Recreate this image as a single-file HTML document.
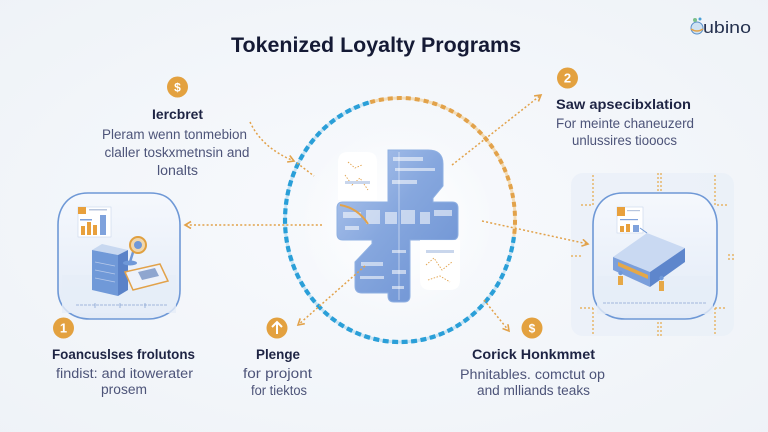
<!DOCTYPE html>
<html><head><meta charset="utf-8">
<style>
html,body{margin:0;padding:0;}
body{width:768px;height:432px;overflow:hidden;background:#f3f6fa;}
svg{display:block;}
text{font-family:"Liberation Sans",sans-serif;}
.h{font-weight:bold;fill:#1e2444;font-size:13.5px;}
.b{fill:#4d5479;font-size:13.5px;}
</style></head><body>
<svg width="768" height="432" viewBox="0 0 768 432" xmlns="http://www.w3.org/2000/svg">
<defs>
 <radialGradient id="bg" cx="50%" cy="50%" r="75%">
   <stop offset="0" stop-color="#f8fafd"/><stop offset="1" stop-color="#eef2f7"/>
 </radialGradient>
 <radialGradient id="glow" cx="50%" cy="50%" r="50%">
   <stop offset="0" stop-color="#ffffff" stop-opacity="0.95"/><stop offset="1" stop-color="#ffffff" stop-opacity="0"/>
 </radialGradient>
 <linearGradient id="blu" x1="0" y1="0" x2="1" y2="1">
   <stop offset="0" stop-color="#b3c9ee"/><stop offset="0.45" stop-color="#86a7de"/><stop offset="1" stop-color="#6a90d2"/>
 </linearGradient>
 <linearGradient id="card" x1="0" y1="0" x2="0" y2="1">
   <stop offset="0" stop-color="#f5f8fd"/><stop offset="1" stop-color="#e3ebf7"/>
 </linearGradient>
 <marker id="ah" markerWidth="10" markerHeight="10" refX="7" refY="4" orient="auto" markerUnits="userSpaceOnUse">
   <path d="M1,0.5 L7,4 L1,7.5" fill="none" stroke="#e2a24a" stroke-width="1.6"/>
 </marker>
</defs>
<rect x="0" y="0" width="768" height="432" fill="url(#bg)"/>

<!-- Title -->
<text x="376" y="52" text-anchor="middle" font-size="21" font-weight="bold" fill="#151a35" textLength="290" lengthAdjust="spacingAndGlyphs">Tokenized Loyalty Programs</text>

<!-- Logo -->
<circle cx="697" cy="28" r="6" fill="#cfe2f2" stroke="#5a8fc8" stroke-width="1"/>
<path d="M691,29 Q697,33 703,29" stroke="#e2a24a" stroke-width="1.5" fill="none"/>
<circle cx="695" cy="20" r="2" fill="#7bbf8a"/>
<circle cx="700" cy="19" r="1.5" fill="#4aa0d8"/>
<text x="703" y="33" font-size="17" fill="#25314f" textLength="48" lengthAdjust="spacingAndGlyphs">ubino</text>

<!-- Right panel background -->
<rect x="571" y="173" width="163" height="163" rx="12" fill="#eaf0f8" opacity="0.85"/>
<g stroke="#e6a847" stroke-width="1.2" stroke-dasharray="2 2" fill="none">
 <path d="M593,175 L593,205 L580,205"/>
 <path d="M658,173 L658,192"/><path d="M661,173 L661,192"/>
 <path d="M715,175 L715,205 L727,205"/>
 <path d="M728,255 L735,255"/><path d="M728,259 L735,259"/>
 <path d="M571,256 L582,256"/>
 <path d="M593,308 L593,336"/><path d="M658,322 L658,336"/><path d="M661,322 L661,336"/>
 <path d="M715,308 L715,336"/>
 <path d="M580,308 L593,308"/><path d="M715,308 L727,308"/>
</g>

<!-- Left card -->
<path d="M88,193 L150,193 Q165,193 172,202 Q180,212 180,225 L180,290 Q180,305 170,312 Q160,319 148,319 L90,319 Q76,319 67,311 Q58,303 58,290 L58,225 Q58,211 66,202 Q74,193 88,193 Z" fill="url(#card)" stroke="#6e98d6" stroke-width="1.6"/>
<rect x="62" y="275" width="114" height="38" fill="#e6edf8" opacity="0.8"/>
<rect x="78" y="207" width="33" height="30" fill="#ffffff" stroke="#c9d6ec" stroke-width="0.6"/>
<rect x="78" y="207" width="8" height="7" fill="#e8a03c"/>
<rect x="89" y="209" width="18" height="1.5" fill="#b8c6de"/>
<rect x="81" y="226" width="4" height="9" fill="#e8a03c"/>
<rect x="87" y="222" width="4" height="13" fill="#e8a03c"/>
<rect x="93" y="225" width="4" height="10" fill="#e8a03c"/>
<rect x="100" y="215" width="6" height="20" fill="#7fa2dc"/>
<rect x="80" y="219" width="12" height="1.5" fill="#7fa2dc"/>
<polygon points="92,250 102,244 128,250 118,255" fill="#c8d8f0"/>
<polygon points="92,250 118,255 118,296 92,290" fill="#7099d8"/>
<polygon points="118,255 128,250 128,290 118,296" fill="#5a82c8"/>
<g stroke="#b7c9ea" stroke-width="0.8"><line x1="95" y1="262" x2="115" y2="266"/><line x1="95" y1="270" x2="115" y2="274"/><line x1="95" y1="278" x2="115" y2="282"/></g>
<polygon points="125,272 160,264 168,281 133,290" fill="#eef2fa" stroke="#e2a24a" stroke-width="1.5"/>
<polygon points="138,272 155,268 159,276 142,280" fill="#8fa6cf"/>
<ellipse cx="130" cy="263" rx="7" ry="2.5" fill="#6f98d8"/>
<line x1="130" y1="262" x2="134" y2="249" stroke="#6f98d8" stroke-width="2.5"/>
<circle cx="138" cy="245" r="8" fill="#f0d7ad" stroke="#e0a040" stroke-width="2"/>
<circle cx="138" cy="245" r="4" fill="#6f98d8"/>
<line x1="76" y1="305" x2="168" y2="305" stroke="#8aa5d4" stroke-width="0.8" stroke-dasharray="3 1"/>
<g stroke="#8aa5d4" stroke-width="0.8"><line x1="95" y1="303" x2="95" y2="308"/><line x1="120" y1="303" x2="120" y2="308"/><line x1="145" y1="303" x2="145" y2="308"/></g>

<!-- Right inner card -->
<path d="M623,193 L687,193 Q702,193 709,202 Q717,212 717,225 L717,290 Q717,305 707,312 Q697,319 685,319 L625,319 Q611,319 602,311 Q593,303 593,290 L593,225 Q593,211 601,202 Q609,193 623,193 Z" fill="url(#card)" stroke="#6e98d6" stroke-width="1.6"/>
<rect x="597" y="276" width="116" height="38" fill="#e6edf8" opacity="0.8"/>
<rect x="617" y="207" width="26" height="26" fill="#ffffff" stroke="#c9d6ec" stroke-width="0.6"/>
<rect x="617" y="207" width="8" height="9" fill="#e8a03c"/>
<rect x="627" y="210" width="13" height="1.2" fill="#b8c6de"/>
<rect x="620" y="219" width="18" height="1.2" fill="#7fa2dc"/>
<rect x="620" y="226" width="4" height="6" fill="#e8a03c"/><rect x="626" y="224" width="4" height="8" fill="#e8a03c"/><rect x="633" y="225" width="6" height="7" fill="#7fa2dc"/>
<polygon points="613,257 647,233 685,248 650,272" fill="#c9d9f2"/>
<polygon points="613,257 650,272 650,287 613,270" fill="#7b9fdb"/>
<polygon points="650,272 685,248 685,262 650,287" fill="#5e86cc"/>
<polygon points="618,262 648,275 648,279 618,266" fill="#e6a847"/>
<line x1="647" y1="233" x2="640" y2="228" stroke="#6e98d6" stroke-width="1"/>
<rect x="618" y="276" width="5" height="9" fill="#e6a847"/><circle cx="620.5" cy="273" r="2.2" fill="#6f98d8"/>
<rect x="659" y="281" width="5" height="10" fill="#e6a847"/><circle cx="661.5" cy="278" r="2.2" fill="#6f98d8"/>
<line x1="603" y1="303" x2="707" y2="303" stroke="#8aa5d4" stroke-width="0.8" stroke-dasharray="3 1"/>

<!-- Center glow and circle -->
<circle cx="398" cy="222" r="100" fill="url(#glow)"/>
<path d="M370.2,102.2 A115,122 0 0 1 513.9,237" fill="none" stroke="#f3dcb6" stroke-width="3"/>
<path d="M370.2,102.2 A115,122 0 0 1 513.9,237" fill="none" stroke="#e2a24a" stroke-width="4" stroke-dasharray="5 4"/>
<path d="M513.9,237 A115,122 0 1 1 370.2,102.2" fill="none" stroke="#c6e3f3" stroke-width="3"/>
<path d="M513.9,237 A115,122 0 1 1 370.2,102.2" fill="none" stroke="#2a9fd8" stroke-width="4.2" stroke-dasharray="6 3.5"/>

<!-- Central figure -->
<path d="M388,150 L428,150 Q443,150 443,164 L443,186 L433,198 L433,202 L452,202 Q458,202 458,208 L458,234 Q458,240 452,240 L410,240 L410,296 Q410,302 404,302 L394,302 Q388,302 388,296 L388,293 L362,293 Q355,293 355,286 L355,262 L372,244 L372,240 L343,240 Q337,240 337,234 L337,208 Q337,202 343,202 L388,202 Z" fill="url(#blu)" stroke="#8fb0e2" stroke-width="1"/>
<g fill="#ffffff" opacity="0.55">
 <rect x="393" y="157" width="30" height="4"/><rect x="395" y="168" width="40" height="3"/><rect x="392" y="180" width="25" height="4"/>
 <rect x="343" y="212" width="18" height="6"/><rect x="366" y="210" width="14" height="14"/><rect x="385" y="212" width="12" height="12"/>
 <rect x="401" y="210" width="14" height="14"/><rect x="420" y="212" width="10" height="12"/><rect x="434" y="210" width="18" height="6"/>
 <rect x="345" y="226" width="14" height="4"/><rect x="392" y="250" width="14" height="3"/><rect x="361" y="262" width="22" height="4"/>
 <rect x="360" y="276" width="24" height="3"/><rect x="392" y="270" width="14" height="4"/><rect x="392" y="286" width="12" height="3"/>
</g>
<line x1="399" y1="152" x2="399" y2="300" stroke="#ffffff" stroke-width="1" opacity="0.5"/>
<path d="M338,200 L338,162 Q338,152 348,152 L367,152 Q377,152 377,162 L377,200 Z" fill="#ffffff" opacity="0.92"/>
<g stroke="#e2a24a" stroke-width="0.9" stroke-dasharray="1.5 1.5" fill="none">
 <path d="M345,175 L352,185 L360,178 L368,190"/><path d="M348,162 L355,168 L362,165"/>
</g>
<rect x="345" y="181" width="25" height="3" fill="#c9d6ec"/>
<path d="M420,240 L460,240 L460,280 Q460,290 450,290 L430,290 Q420,290 420,280 Z" fill="#ffffff" opacity="0.92"/>
<g stroke="#e2a24a" stroke-width="0.9" stroke-dasharray="1.5 1.5" fill="none">
 <path d="M426,265 L434,258 L442,270 L452,262"/><path d="M428,280 L440,276 L450,282"/>
</g>
<rect x="426" y="250" width="28" height="3" fill="#c9d6ec"/>
<path d="M340,205 Q358,208 368,224" stroke="#e2a24a" stroke-width="2" fill="none"/>

<!-- Arrows -->
<g stroke="#e2a24a" stroke-width="1.5" stroke-dasharray="2 2.2" fill="none">
 <path d="M250,122 Q262,148 294,161" marker-end="url(#ah)"/>
 <line x1="297" y1="163" x2="314" y2="176"/>
 <line x1="452" y1="165" x2="541" y2="95" marker-end="url(#ah)"/>
 <line x1="322" y1="225" x2="185" y2="225" marker-end="url(#ah)"/>
 <line x1="482" y1="221" x2="588" y2="244" marker-end="url(#ah)"/>
 <line x1="365" y1="266" x2="298" y2="325" marker-end="url(#ah)"/>
 <line x1="484" y1="300" x2="509" y2="331" marker-end="url(#ah)"/>
</g>

<!-- Badges -->
<g font-weight="bold" font-size="12" fill="#ffffff" text-anchor="middle">
 <circle cx="177.5" cy="87" r="10.5" fill="#e3a13f"/><text x="177.5" y="91.5">$</text>
 <circle cx="567.5" cy="78" r="10.5" fill="#e3a13f"/><text x="567.5" y="82.5" font-size="13">2</text>
 <circle cx="63.5" cy="328" r="10.5" fill="#e3a13f"/><text x="63.5" y="332.5" font-size="13">1</text>
 <circle cx="277" cy="328" r="10.5" fill="#e3a13f"/>
 <circle cx="532" cy="328" r="10.5" fill="#e3a13f"/><text x="532" y="332.5">$</text>
</g>
<path d="M277,334 L277,322 M272,327 L277,322 L282,327" stroke="#ffffff" stroke-width="2" fill="none"/>

<!-- Top-left text -->
<text class="h" x="177.5" y="119" text-anchor="middle" textLength="51" lengthAdjust="spacingAndGlyphs">Iercbret</text>
<text class="b" x="174.5" y="139" text-anchor="middle" textLength="145" lengthAdjust="spacingAndGlyphs">Pleram wenn tonmebion</text>
<text class="b" x="177" y="157" text-anchor="middle" textLength="145" lengthAdjust="spacingAndGlyphs">claller toskxmetnsin and</text>
<text class="b" x="177.5" y="175" text-anchor="middle" textLength="41" lengthAdjust="spacingAndGlyphs">lonalts</text>

<!-- Top-right text -->
<text class="h" x="623.5" y="109" text-anchor="middle" textLength="135" lengthAdjust="spacingAndGlyphs">Saw apsecibxlation</text>
<text class="b" x="625" y="128" text-anchor="middle" textLength="138" lengthAdjust="spacingAndGlyphs">For meinte chaneuzerd</text>
<text class="b" x="624.5" y="145" text-anchor="middle" textLength="105" lengthAdjust="spacingAndGlyphs">unlussires tiooocs</text>

<!-- Bottom-left text -->
<text class="h" x="123.5" y="359" text-anchor="middle" textLength="143" lengthAdjust="spacingAndGlyphs">Foancuslses frolutons</text>
<text class="b" x="124.5" y="378" text-anchor="middle" textLength="137" lengthAdjust="spacingAndGlyphs">findist: and itowerater</text>
<text class="b" x="124" y="394" text-anchor="middle" textLength="46" lengthAdjust="spacingAndGlyphs">prosem</text>

<!-- Bottom-mid text -->
<text class="h" x="278" y="359" text-anchor="middle" textLength="44" lengthAdjust="spacingAndGlyphs">Plenge</text>
<text class="b" x="277.5" y="378" text-anchor="middle" textLength="69" lengthAdjust="spacingAndGlyphs">for projont</text>
<text class="b" x="279" y="395" text-anchor="middle" font-size="12" fill="#5d6488" textLength="56" lengthAdjust="spacingAndGlyphs">for tiektos</text>

<!-- Bottom-right text -->
<text class="h" x="533.5" y="359" text-anchor="middle" textLength="123" lengthAdjust="spacingAndGlyphs">Corick Honkmmet</text>
<text class="b" x="532.5" y="379" text-anchor="middle" textLength="145" lengthAdjust="spacingAndGlyphs">Phnitables. comctut op</text>
<text class="b" x="533.5" y="395" text-anchor="middle" textLength="113" lengthAdjust="spacingAndGlyphs">and mlliands teaks</text>
</svg>
</body></html>
